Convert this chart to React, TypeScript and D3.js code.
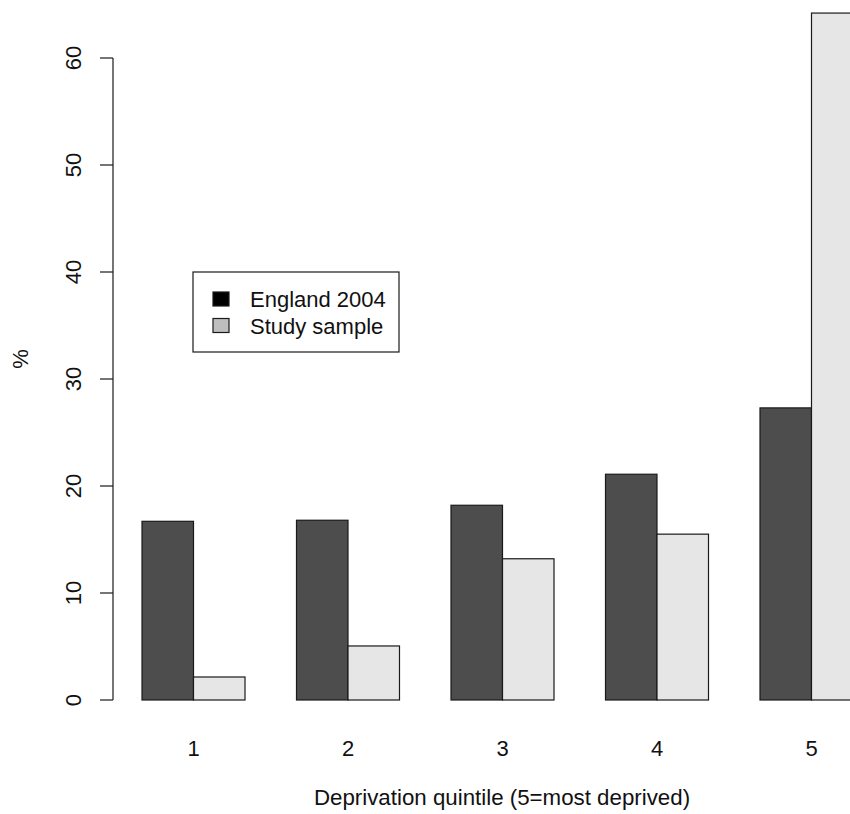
import React from "react";
import * as d3 from "d3";

const categories = ["1", "2", "3", "4", "5"];
const england2004 = [16.7, 16.8, 18.2, 21.1, 27.3];
const studySample = [2.15, 5.05, 13.2, 15.5, 64.2];
const yTicks = [0, 10, 20, 30, 40, 50, 60];
const seriesNames = ["England 2004", "Study sample"];

const W = 850;
const H = 814;
const FONT = "Liberation Sans, Arial, Helvetica, sans-serif";

export default function App() {
  // barplot units: each group = 1 space + 2 bars
  const x = d3.scaleLinear().domain([0, 15]).range([90.5, 863]);
  const y = d3.scaleLinear().domain([0, 60]).range([700, 58]);
  const series = [
    { values: england2004, fill: "#4d4d4d", offset: 1 },
    { values: studySample, fill: "#e6e6e6", offset: 2 },
  ];
  const axisX = 113;

  return (
    <svg
      width={W}
      height={H}
      style={{ position: "absolute", left: 0, top: 0, background: "#fff" }}
      fontFamily={FONT}
    >
      <rect x={0} y={0} width={W} height={H} fill="#fff" />
      {series.map((s, si) =>
        s.values.map((v, i) => {
          const x0 = x(3 * i + s.offset);
          const x1 = x(3 * i + s.offset + 1);
          return (
            <rect
              key={`${si}-${i}`}
              x={x0}
              y={y(v)}
              width={x1 - x0}
              height={y(0) - y(v)}
              fill={s.fill}
              stroke="#1a1a1a"
              strokeWidth={1.2}
            />
          );
        })
      )}
      {/* y axis */}
      <line x1={axisX} x2={axisX} y1={y(60)} y2={y(0)} stroke="#1a1a1a" strokeWidth={1.2} />
      {yTicks.map((t) => (
        <g key={t}>
          <line x1={axisX - 13} x2={axisX} y1={y(t)} y2={y(t)} stroke="#1a1a1a" strokeWidth={1.2} />
          <text
            transform={`translate(81,${y(t)}) rotate(-90)`}
            textAnchor="middle"
            fontSize={22}
            fill="#111"
          >
            {t}
          </text>
        </g>
      ))}
      {/* x labels */}
      {categories.map((c, i) => (
        <text key={c} x={x(3 * i + 2)} y={756} textAnchor="middle" fontSize={22} fill="#111">
          {c}
        </text>
      ))}
      <text x={502} y={805} textAnchor="middle" fontSize={22.3} fill="#111">
        Deprivation quintile (5=most deprived)
      </text>
      <text transform="translate(28,359) rotate(-90)" textAnchor="middle" fontSize={22} fill="#111">
        %
      </text>
      {/* legend */}
      <rect x={193} y={272} width={206} height={80} fill="#fff" stroke="#1a1a1a" strokeWidth={1.2} />
      {seriesNames.map((n, i) => (
        <g key={n}>
          <rect
            x={213}
            y={292 + i * 26.5}
            width={16}
            height={14}
            fill={i === 0 ? "#000" : "#bebebe"}
            stroke="#1a1a1a"
            strokeWidth={1.2}
          />
          <text x={250} y={307 + i * 26.5} fontSize={22} fill="#111">
            {n}
          </text>
        </g>
      ))}
    </svg>
  );
}
